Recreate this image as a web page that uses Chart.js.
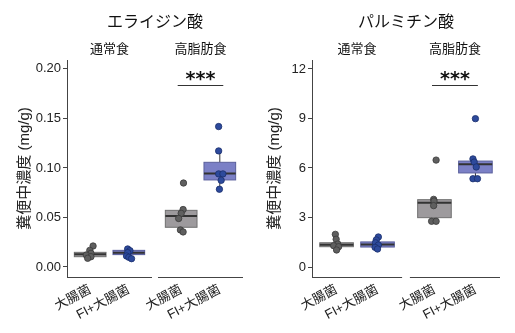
<!DOCTYPE html>
<html>
<head>
<meta charset="utf-8">
<script src="https://cdn.jsdelivr.net/npm/chart.js@4.4.1/dist/chart.umd.min.js"></script>
<style>
  body { margin: 0; background: #fff; width: 515px; height: 333px; overflow: hidden; display: flex; }
  canvas { display: block; }
</style>
</head>
<body>
<canvas id="c1" width="257" height="333"></canvas>
<canvas id="c2" width="258" height="333"></canvas>
<script>
const facetNames = ['通常食', '高脂肪食'];
const groupLabels = ['大腸菌', 'FI+大腸菌', '大腸菌', 'FI+大腸菌'];
const groupKind = ['ecoli', 'fi', 'ecoli', 'fi'];
const yTitle = '糞便中濃度 (mg/g)';

// エライジン酸
const elaTitle = 'エライジン酸';
const elaTicks = [0, 0.05, 0.10, 0.15, 0.20];
const elaValues = [
  [0.0212, 0.0168, 0.0138, 0.0121, 0.0104, 0.0088],
  [0.0182, 0.0165, 0.0145, 0.0111, 0.0098, 0.0084],
  [0.0848, 0.0580, 0.0542, 0.0490, 0.0374, 0.0354],
  [0.1418, 0.1172, 0.0940, 0.0940, 0.0875, 0.0785]
];
const elaJitter = [
  [0.075, -0.01, 0.02, -0.10, 0.02, -0.065],
  [-0.03, 0.03, -0.03, -0.06, 0.0, 0.07],
  [0.06, 0.05, 0.0, -0.065, -0.02, 0.05],
  [-0.03, -0.03, -0.03, 0.08, 0.035, -0.01]
];
// [lower whisker, q1, median, q3, upper whisker]
const elaBoxes = [
  [0.0088, 0.0104, 0.0128, 0.0148, 0.0168],
  [0.0084, 0.0125, 0.0145, 0.0168, 0.0182],
  [0.0354, 0.0401, 0.0515, 0.0572, 0.0580],
  [0.0785, 0.0879, 0.0943, 0.1057, 0.1172]
];
const elaSig = { groups: [2, 3], y: 0.184, text: '***' };

// パルミチン酸
const palTitle = 'パルミチン酸';
const palTicks = [0, 3, 6, 9, 12];
const palValues = [
  [1.98, 1.68, 1.39, 1.29, 1.23, 1.03],
  [1.82, 1.64, 1.47, 1.33, 1.19, 1.09],
  [6.48, 4.10, 4.00, 3.72, 2.77, 2.77],
  [8.99, 6.55, 6.36, 6.06, 5.35, 5.35]
];
const palJitter = [
  [-0.03, -0.01, 0.03, -0.07, 0.05, 0.0],
  [0.02, -0.03, -0.05, 0.02, -0.06, 0.0],
  [0.04, -0.02, -0.01, -0.02, -0.07, 0.04],
  [0.0, -0.06, -0.03, 0.02, -0.06, 0.05]
];
const palBoxes = [
  [1.03, 1.23, 1.35, 1.47, 1.68],
  [1.09, 1.21, 1.37, 1.52, 1.82],
  [2.77, 2.99, 3.90, 4.08, 4.10],
  [5.35, 5.70, 6.22, 6.42, 6.55]
];
const palSig = { groups: [2, 3], y: 11.03, text: '***' };

const colors = {
  ecoli: { point: '#5f5f5f', pointEdge: '#3a3a3a', box: '#9d9a9d', edge: '#707070' },
  fi: { point: '#2d4a9c', pointEdge: '#1b2f6c', box: '#7b80c6', edge: '#5a5f9c' }
};
const fontFamily = '"Liberation Sans", "Noto Sans CJK JP", sans-serif';
const boxHalf = 0.41;

function makeChart(canvasId, p) {
  const gap = p.gap;
  const xPos = [0.6, 1.6, 2.8 + gap, 3.8 + gap];
  const facetRanges = [[0, 2.2], [2.2 + gap, 4.4 + gap]];

  const datasets = p.values.map((vals, g) => ({
    data: vals.map((v, i) => ({ x: xPos[g] + p.jitter[g][i], y: v })),
    backgroundColor: colors[groupKind[g]].point,
    borderColor: colors[groupKind[g]].pointEdge,
    borderWidth: 0.8,
    pointRadius: 3.2
  }));

  const decor = {
    id: 'decor' + canvasId,
    beforeDatasetsDraw(chart) {
      const ctx = chart.ctx, xs = chart.scales.x, ys = chart.scales.y;
      ctx.save();
      p.boxes.forEach((b, g) => {
        const c = colors[groupKind[g]];
        const x0 = xs.getPixelForValue(xPos[g] - boxHalf);
        const x1 = xs.getPixelForValue(xPos[g] + boxHalf);
        const xc = xs.getPixelForValue(xPos[g]);
        const [lo, q1, med, q3, hi] = b.map(v => ys.getPixelForValue(v));
        ctx.lineWidth = 1;
        ctx.strokeStyle = '#333';
        ctx.beginPath();
        ctx.moveTo(xc, q3); ctx.lineTo(xc, hi);
        ctx.moveTo(xc, q1); ctx.lineTo(xc, lo);
        ctx.stroke();
        ctx.fillStyle = c.box;
        ctx.fillRect(x0, q3, x1 - x0, q1 - q3);
        ctx.strokeStyle = c.edge;
        ctx.strokeRect(x0, q3, x1 - x0, q1 - q3);
        ctx.lineWidth = 2;
        ctx.strokeStyle = '#333';
        ctx.beginPath();
        ctx.moveTo(x0, med); ctx.lineTo(x1, med);
        ctx.stroke();
      });
      ctx.restore();
    },
    afterDraw(chart) {
      const ctx = chart.ctx, xs = chart.scales.x, ys = chart.scales.y;
      const area = chart.chartArea;
      ctx.save();
      // facet x axis lines
      ctx.strokeStyle = '#444';
      ctx.lineWidth = 1;
      facetRanges.forEach(r => {
        ctx.beginPath();
        ctx.moveTo(xs.getPixelForValue(r[0]), area.bottom + 0.5);
        ctx.lineTo(xs.getPixelForValue(r[1]), area.bottom + 0.5);
        ctx.stroke();
      });
      // title
      ctx.fillStyle = '#111';
      ctx.textAlign = 'center';
      ctx.textBaseline = 'middle';
      ctx.font = '16px ' + fontFamily;
      ctx.fillText(p.title, (area.left + area.right) / 2, 23);
      // facet strips
      ctx.font = '13px ' + fontFamily;
      facetRanges.forEach((r, i) => {
        ctx.fillText(facetNames[i], xs.getPixelForValue((r[0] + r[1]) / 2), 49);
      });
      // significance bracket
      const s = p.sig;
      const sx0 = xs.getPixelForValue(xPos[s.groups[0]] - p.sigExt);
      const sx1 = xs.getPixelForValue(xPos[s.groups[1]] + p.sigExt);
      const sy = Math.round(ys.getPixelForValue(s.y)) + 0.5;
      ctx.strokeStyle = '#333';
      ctx.beginPath();
      ctx.moveTo(sx0, sy); ctx.lineTo(sx1, sy);
      ctx.stroke();
      ctx.font = 'bold 19px "DejaVu Sans", sans-serif';
      ctx.textBaseline = 'alphabetic';
      ctx.fillText(s.text, (sx0 + sx1) / 2, sy - 1);
      ctx.restore();
    }
  };

  return new Chart(document.getElementById(canvasId), {
    type: 'scatter',
    data: { datasets },
    options: {
      responsive: false,
      animation: false,
      devicePixelRatio: 1,
      events: [],
      layout: { padding: { left: 0, right: p.padRight, top: 60, bottom: 0 } },
      plugins: { legend: { display: false }, tooltip: { enabled: false } },
      scales: {
        x: {
          type: 'linear',
          min: 0,
          max: 4.4 + gap,
          grid: { display: false, drawTicks: false },
          border: { display: false },
          afterBuildTicks: s => { s.ticks = xPos.map(v => ({ value: v })); },
          afterFit: s => { s.height = 56; },
          ticks: {
            autoSkip: false,
            minRotation: 28,
            maxRotation: 28,
            padding: 5,
            color: '#222',
            font: { family: fontFamily, size: 13 },
            callback: (v, i) => groupLabels[i]
          }
        },
        y: {
          min: p.yMin,
          max: p.yMax,
          grid: { display: true, drawOnChartArea: false, drawTicks: true, tickLength: 4, color: '#444' },
          border: { display: true, color: '#444' },
          afterBuildTicks: s => { s.ticks = p.ticks.map(v => ({ value: v })); },
          afterFit: s => { s.width = p.yWidth; },
          title: {
            display: true,
            text: yTitle,
            color: '#222',
            padding: { top: p.titlePad, bottom: 0 },
            font: { family: fontFamily, size: 15 }
          },
          ticks: {
            padding: 2,
            color: '#222',
            font: { family: fontFamily, size: 13 },
            callback: p.fmt
          }
        }
      }
    },
    plugins: [decor]
  });
}

makeChart('c1', {
  title: elaTitle, values: elaValues, jitter: elaJitter, boxes: elaBoxes, sig: elaSig,
  ticks: elaTicks, yMin: -0.0101, yMax: 0.209, fmt: v => v.toFixed(2),
  gap: 0.155, sigExt: 0.09, yWidth: 67, padRight: 14, titlePad: 16
});
makeChart('c2', {
  title: palTitle, values: palValues, jitter: palJitter, boxes: palBoxes, sig: palSig,
  ticks: palTicks, yMin: -0.606, yMax: 12.545, fmt: v => String(v),
  gap: 0.19, sigExt: 0.06, yWidth: 55, padRight: 15, titlePad: 9
});
</script>
</body>
</html>
